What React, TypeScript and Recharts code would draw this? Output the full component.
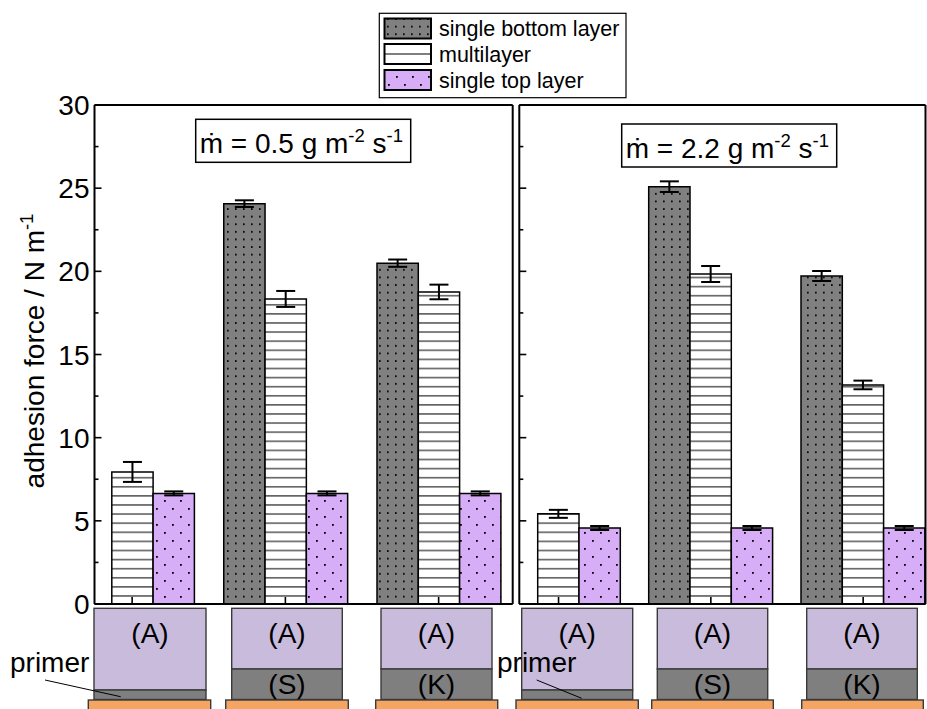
import React from 'react';
import { BarChart, Bar, XAxis, YAxis, ErrorBar } from 'recharts';

const FONT = '"Liberation Sans", Arial, Helvetica, sans-serif';

// categories (layer systems)
const categories = ['(A)', '(S)/(A)', '(K)/(A)'];
const seriesNames = ['single bottom layer', 'multilayer', 'single top layer'];

// panel 1: m-dot = 0.5 g m^-2 s^-1
const lowBottom = [null, 24.07, 20.49];
const lowBottomErr = [null, 0.2, 0.22];
const lowMulti = [7.94, 18.34, 18.76];
const lowMultiErr = [0.6, 0.48, 0.44];
const lowTop = [6.65, 6.65, 6.65];
const lowTopErr = [0.12, 0.12, 0.12];

// panel 2: m-dot = 2.2 g m^-2 s^-1
const highBottom = [null, 25.09, 19.72];
const highBottomErr = [null, 0.32, 0.3];
const highMulti = [5.42, 19.84, 13.17];
const highMultiErr = [0.24, 0.48, 0.26];
const highTop = [4.57, 4.57, 4.57];
const highTopErr = [0.12, 0.12, 0.12];

const yTicks = [0, 2.5, 5, 7.5, 10, 12.5, 15, 17.5, 20, 22.5, 25, 27.5, 30];
const panelRates = ['0.5', '2.2'];

// schematic layer labels per category
const schematicTop = ['(A)', '(A)', '(A)'];
const schematicBottom = ['primer', '(S)', '(K)'];

const buildData = (b: any[], be: any[], m: any[], me: any[], t: any[], te: any[]) =>
  categories.map((cat, i) => ({
    cat,
    bottom: b[i],
    bottomErr: be[i],
    multi: m[i],
    multiErr: me[i],
    top: t[i],
    topErr: te[i],
  }));

const lowData = buildData(lowBottom, lowBottomErr, lowMulti, lowMultiErr, lowTop, lowTopErr);
const highData = buildData(highBottom, highBottomErr, highMulti, highMultiErr, highTop, highTopErr);

const AX = { stroke: '#000', strokeWidth: 2 };

const YTick = (props: any) => {
  const { x, y, payload, dir, showLabel } = props;
  const v = payload.value;
  const major = Math.abs(v % 5) < 1e-6;
  const len = major ? 7 : 4;
  return (
    <g>
      <line x1={x} x2={x + dir * len} y1={y} y2={y} stroke="#000" strokeWidth={1.6} />
      {showLabel && major ? (
        <text x={x - 5} y={y} dy="0.36em" textAnchor="end" fontFamily={FONT} fontSize={28} fill="#000">
          {v}
        </text>
      ) : null}
    </g>
  );
};

const XTick = (props: any) => {
  const { x, y } = props;
  return <line x1={x} x2={x} y1={y} y2={y - 7} stroke="#000" strokeWidth={1.6} />;
};

function Panel(props: any) {
  const { data, width, margin, padding, showLabels } = props;
  return (
    <BarChart width={width} height={709} data={data} margin={margin} barSize={41.3} barGap={0}>
      <XAxis
        xAxisId="b"
        dataKey="cat"
        height={1}
        padding={padding}
        interval={0}
        tickSize={0}
        tickMargin={0}
        tickLine={false}
        axisLine={AX}
        tick={(p: any) => <XTick x={p.x} y={p.y} />}
      />
      <XAxis
        xAxisId="t"
        orientation="top"
        dataKey="cat"
        height={1}
        padding={padding}
        interval={0}
        tickSize={0}
        tickLine={false}
        axisLine={AX}
        tick={false}
      />
      <YAxis
        yAxisId="l"
        type="number"
        width={1}
        domain={[0, 30]}
        ticks={yTicks}
        interval={0}
        tickSize={0}
        tickMargin={0}
        tickLine={false}
        axisLine={AX}
        tick={(p: any) => <YTick x={p.x} y={p.y} payload={p.payload} dir={1} showLabel={showLabels} />}
      />
      <YAxis
        yAxisId="r"
        orientation="right"
        type="number"
        width={1}
        domain={[0, 30]}
        ticks={yTicks}
        interval={0}
        tickSize={0}
        tickMargin={0}
        tickLine={false}
        axisLine={AX}
        tick={(p: any) => <YTick x={p.x} y={p.y} payload={p.payload} dir={-1} showLabel={false} />}
      />
      <Bar xAxisId="b" yAxisId="l" dataKey="bottom" name={seriesNames[0]} fill="url(#pDark)" stroke="#000" strokeWidth={1.5} isAnimationActive={false}>
        <ErrorBar dataKey="bottomErr" width={9.5} strokeWidth={2} stroke="#000" direction="y" />
      </Bar>
      <Bar xAxisId="b" yAxisId="l" dataKey="multi" name={seriesNames[1]} fill="url(#pMulti)" stroke="#000" strokeWidth={1.5} isAnimationActive={false}>
        <ErrorBar dataKey="multiErr" width={9.5} strokeWidth={2} stroke="#000" direction="y" />
      </Bar>
      <Bar xAxisId="b" yAxisId="l" dataKey="top" name={seriesNames[2]} fill="url(#pTop)" stroke="#000" strokeWidth={1.5} isAnimationActive={false}>
        <ErrorBar dataKey="topErr" width={9.5} strokeWidth={2} stroke="#000" direction="y" />
      </Bar>
    </BarChart>
  );
}

const LAV = '#c9bbdb';
const GRAY = '#7f7f7f';
const ORANGE = '#f4a562';
const BOXSTROKE = '#3a3a3a';

// schematic geometry (illustration boxes below each group)
const schemBoxes = [
  { x: 94, w: 112, ox: 88.3, ow: 122.4 },
  { x: 231.7, w: 110.6, ox: 225.7, ow: 122.6 },
  { x: 381, w: 111, ox: 375.7, ow: 122 },
  { x: 521.7, w: 111, ox: 516, ow: 122.3 },
  { x: 657.3, w: 110.4, ox: 651.7, ow: 121.6 },
  { x: 806.7, w: 110.6, ox: 801.7, ow: 121.6 },
];

function Schematic({ b, idx }: any) {
  const top = 608.3;
  const isPrimer = schematicBottom[idx % 3] === 'primer';
  const split = isPrimer ? 690 : 669;
  const bottomY = 699.5;
  const cx = b.x + b.w / 2;
  return (
    <g>
      <rect x={b.x} y={top} width={b.w} height={split - top} fill={LAV} stroke={BOXSTROKE} strokeWidth={1.4} />
      <rect x={b.x} y={split} width={b.w} height={bottomY - split} fill={GRAY} stroke={BOXSTROKE} strokeWidth={1.4} />
      <text x={cx} y={643} textAnchor="middle" fontFamily={FONT} fontSize={28} fill="#000">
        {schematicTop[idx % 3]}
      </text>
      {!isPrimer ? (
        <text x={cx} y={694} textAnchor="middle" fontFamily={FONT} fontSize={28} fill="#000">
          {schematicBottom[idx % 3]}
        </text>
      ) : null}
      <rect x={b.ox} y={700} width={b.ow} height={12} fill={ORANGE} stroke={BOXSTROKE} strokeWidth={1.4} />
    </g>
  );
}

function Title({ x, y, w, h, rate }: any) {
  return (
    <g>
      <rect x={x} y={y} width={w} height={h} fill="#fff" stroke="#000" strokeWidth={1.5} />
      <text x={x + 4} y={y + 34} fontFamily={FONT} fontSize={28} fill="#000">
        {'ṁ = ' + rate + ' g m'}
        <tspan dy={-11} fontSize={18.5}>{'-2'}</tspan>
        <tspan dy={11}>{' s'}</tspan>
        <tspan dy={-11} fontSize={18.5}>{'-1'}</tspan>
      </text>
    </g>
  );
}

function LegendBox() {
  const rows = [
    { y: 18.5, fill: 'url(#pDark)', label: seriesNames[0] },
    { y: 44, fill: '#fff', label: seriesNames[1], line: true },
    { y: 70, fill: 'url(#pTop)', label: seriesNames[2] },
  ];
  return (
    <g>
      <rect x={379.3} y={13.3} width={246.7} height={84.4} fill="#fff" stroke="#000" strokeWidth={1.2} />
      {rows.map((r, i) => (
        <g key={i}>
          <rect x={384.5} y={r.y} width={46.5} height={20} fill={r.fill} stroke="#000" strokeWidth={2} />
          {r.line ? <line x1={384.5} x2={431} y1={r.y + 10} y2={r.y + 10} stroke="#000" strokeWidth={1.2} /> : null}
          <text x={439} y={r.y + 17.5} fontFamily={FONT} fontSize={21.5} fill="#000">
            {r.label}
          </text>
        </g>
      ))}
    </g>
  );
}

export default function App() {
  return (
    <div style={{ position: 'absolute', left: 0, top: 0, width: 927, height: 709, background: '#fff', overflow: 'hidden' }}>
      <svg width={0} height={0} style={{ position: 'absolute' }}>
        <defs>
          <pattern id="pDark" width={8} height={7.6} patternUnits="userSpaceOnUse">
            <rect width={8} height={7.6} fill="#808080" />
            <rect x={3} y={3} width={1.7} height={1.7} fill="#000" />
          </pattern>
          <pattern id="pTop" width={16} height={16} patternUnits="userSpaceOnUse">
            <rect width={16} height={16} fill="#d8adf7" />
            <rect x={4} y={4} width={1.8} height={1.8} fill="#000" />
            <rect x={12} y={12} width={1.8} height={1.8} fill="#000" />
          </pattern>
          <pattern id="pMulti" width={10} height={9.1} patternUnits="userSpaceOnUse">
            <rect width={10} height={9.1} fill="#fff" />
            <line x1={0} x2={10} y1={4.5} y2={4.5} stroke="#000" strokeWidth={1} />
          </pattern>
        </defs>
      </svg>
      <div style={{ position: 'absolute', left: 0, top: 0 }}>
        <Panel
          data={lowData}
          width={516}
          margin={{ top: 104, left: 93.5, right: 2.3, bottom: 104 }}
          padding={{ left: -39, right: -2.55 }}
          showLabels={true}
        />
      </div>
      <div style={{ position: 'absolute', left: 516, top: 0 }}>
        <Panel
          data={highData}
          width={411}
          margin={{ top: 104, left: 2.3, right: 0.5, bottom: 104 }}
          padding={{ left: -36.9, right: -13.8 }}
          showLabels={false}
        />
      </div>
      <svg width={927} height={709} style={{ position: 'absolute', left: 0, top: 0, pointerEvents: 'none' }}>
        <LegendBox />
        <Title x={195.7} y={119.3} w={215} h={43} rate={panelRates[0]} />
        <Title x={621.7} y={124} w={215} h={43} rate={panelRates[1]} />
        <text transform="translate(44, 351) rotate(-90)" textAnchor="middle" fontFamily={FONT} fontSize={28} fill="#000">
          {'adhesion force / N m'}
          <tspan dy={-11} fontSize={18.5}>{'-1'}</tspan>
        </text>
        {schemBoxes.map((b, i) => (
          <Schematic key={i} b={b} idx={i} />
        ))}
        <text x={10} y={672} fontFamily={FONT} fontSize={28} fill="#000">primer</text>
        <line x1={45} y1={680} x2={120.7} y2={696.7} stroke="#000" strokeWidth={1} />
        <text x={497} y={672} fontFamily={FONT} fontSize={28} fill="#000">primer</text>
        <line x1={536.7} y1={680} x2={581.7} y2={698.3} stroke="#000" strokeWidth={1} />
      </svg>
    </div>
  );
}
